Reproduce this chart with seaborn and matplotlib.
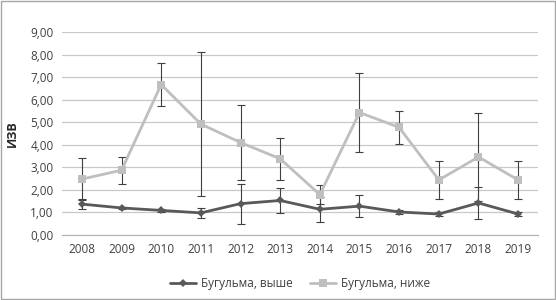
import numpy as np
import pandas as pd
import seaborn as sns
import matplotlib.pyplot as plt

years = ["2008", "2009", "2010", "2011", "2012", "2013", "2014", "2015", "2016", "2017", "2018", "2019"]

# Бугульма, выше
upper_mean = [1.37, 1.20, 1.09, 0.98, 1.39, 1.53, 1.14, 1.28, 1.02, 0.93, 1.42, 0.93]
upper_err = [0.22, 0.05, 0.08, 0.22, 0.89, 0.55, 0.55, 0.50, 0.09, 0.09, 0.71, 0.09]

# Бугульма, ниже
lower_mean = [2.48, 2.87, 6.67, 4.92, 4.10, 3.38, 1.79, 5.43, 4.77, 2.44, 3.46, 2.44]
lower_err = [0.93, 0.60, 0.94, 3.18, 1.65, 0.92, 0.42, 1.75, 0.72, 0.86, 1.95, 0.86]

labels = ["Бугульма, выше", "Бугульма, ниже"]

sns.set_style("white")
plt.rcParams["font.family"] = ["Open Sans", "DejaVu Sans"]

pos = np.arange(len(years))
df = pd.DataFrame({
    "pos": np.concatenate([pos, pos]),
    "value": upper_mean + lower_mean,
    "err": upper_err + lower_err,
    "series": [labels[0]] * len(years) + [labels[1]] * len(years),
})

fig = plt.figure(figsize=(5.56, 3.0), dpi=100)
ax = fig.add_axes([62 / 556, 1 - 235 / 300, 476 / 556, 203 / 300])

palette = {labels[0]: "#595959", labels[1]: "#bfbfbf"}
markers = {labels[0]: "D", labels[1]: "s"}

# error bars first, under the lines
for name in labels[::-1]:
    d = df[df["series"] == name]
    ax.errorbar(d["pos"], d["value"], yerr=d["err"], fmt="none",
                ecolor="#404040", elinewidth=0.8, capsize=3, capthick=0.8, zorder=2)

for name in labels[::-1]:
    d = df[df["series"] == name]
    sns.lineplot(data=d, x="pos", y="value", ax=ax, color=palette[name],
                 marker=markers[name], markersize=4.5 if name == labels[0] else 6,
                 markeredgewidth=0, linewidth=2, label=name, zorder=3)

ax.set_xlim(-0.5, len(years) - 0.5)
ax.set_ylim(0, 9)
ax.set_yticks(np.arange(0, 10, 1))
ax.set_yticklabels([f"{v:.2f}".replace(".", ",") for v in np.arange(0, 10, 1)],
                   fontsize=8.5, color="#404040")
ax.set_xticks(pos)
ax.set_xticklabels(years, fontsize=8.5, color="#404040")
ax.tick_params(axis="both", length=0, pad=6)
ax.grid(axis="y", color="#c8c8c8", linewidth=0.9)
ax.set_axisbelow(True)
for s in ["top", "right", "left"]:
    ax.spines[s].set_visible(False)
ax.spines["bottom"].set_color("#b0b0b0")
ax.set_xlabel("")
ax.set_ylabel("ИЗВ", fontsize=9, fontweight="bold", color="#262626", labelpad=8)

handles, lbls = ax.get_legend_handles_labels()
order = [lbls.index(l) for l in labels]
ax.legend([handles[i] for i in order], [lbls[i] for i in order],
          loc="upper center", bbox_to_anchor=(0.5, -0.155), ncol=2, frameon=False,
          fontsize=8.5, labelcolor="#404040", handlelength=2.2, handletextpad=0.4,
          columnspacing=1.5)

fig.patches.append(plt.Rectangle((0.002, 0.003), 0.996, 0.994, transform=fig.transFigure,
                                 fill=False, edgecolor="#a6a6a6", linewidth=1))

fig.savefig("out.png", dpi=100)
